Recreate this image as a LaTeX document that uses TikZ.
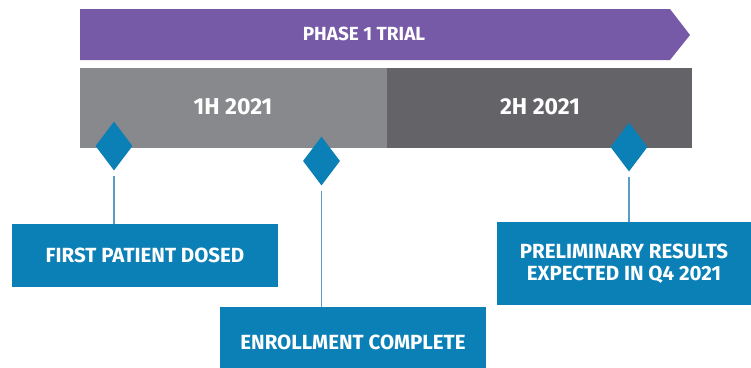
\documentclass[tikz,border=0pt]{standalone}
\usepackage{fontspec}
\setmainfont{Fira Sans}
\usetikzlibrary{shapes.geometric}
\definecolor{purp}{HTML}{775AA7}
\definecolor{lgray}{HTML}{88898C}
\definecolor{dgray}{HTML}{636368}
\definecolor{mblue}{HTML}{0B80B6}
\definecolor{lineblue}{HTML}{5A9DC4}
\tikzset{
  lbl/.style={text=white,font=\bfseries\fontsize{20.5}{22.5}\selectfont,align=center},
  half/.style={lbl,font=\bfseries\fontsize{23}{26}\selectfont},
  ms/.style={diamond,fill=mblue,minimum width=37pt,minimum height=49pt,inner sep=0pt},
  mbox/.style={fill=mblue,draw=none,lbl,inner sep=0pt},
  conn/.style={draw=lineblue,line width=1.3pt,shorten <=5pt}
}
\begin{document}
\begin{tikzpicture}[x=1pt,y=-1pt]
\useasboundingbox (0,0) rectangle (751,367);
% phase arrow
\fill[purp] (80,9) -- (670,9) -- (690,35) -- (670,60) -- (80,60) -- cycle;
\node[lbl,font=\bfseries\fontsize{19}{21}\selectfont] (phase) at (364,34) {PHASE 1 TRIAL};
% half bars
\fill[lgray] (80,68) rectangle (387,148);
\fill[dgray] (387,68) rectangle (692,148);
\node[half] (h1) at (233,107) {1H 2021};
\node[half] (h2) at (540,107) {2H 2021};
% milestones
\node[ms] (d1) at (114,146) {};
\node[ms] (d2) at (321.5,161) {};
\node[ms] (d3) at (629,147) {};
% boxes
\node[mbox,minimum width=266pt,minimum height=63pt] (b1) at (145,255.5) {FIRST PATIENT DOSED};
\node[mbox,minimum width=266pt,minimum height=70pt] (b2) at (353,342) {ENROLLMENT COMPLETE};
\node[mbox,minimum width=254pt,minimum height=83pt] (b3) at (624,263.5) {PRELIMINARY RESULTS\\EXPECTED IN Q4 2021};
% connectors
\draw[conn] (d1.south) -- (d1.south |- b1.north);
\draw[conn] (d2.south) -- (d2.south |- b2.north);
\draw[conn] (d3.south) -- (d3.south |- b3.north);
\end{tikzpicture}
\end{document}
